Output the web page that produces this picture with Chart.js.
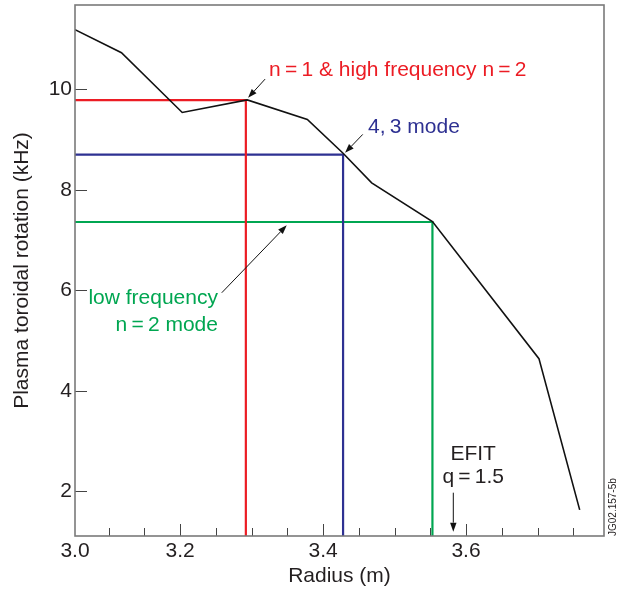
<!DOCTYPE html>
<html><head><meta charset="utf-8">
<script src="https://cdn.jsdelivr.net/npm/chart.js@4/dist/chart.umd.min.js"></script>
<style>html,body{margin:0;padding:0;background:#fff}canvas{display:block}</style>
</head><body>
<canvas id="c" width="626" height="593"></canvas>
<script>
// ---- data ----
const radius   = [3.053, 3.118, 3.203, 3.294, 3.378, 3.428, 3.468, 3.553, 3.702, 3.759];
const rotation = [11.19, 10.73, 9.54, 9.79, 9.40, 8.73, 8.14, 7.37, 4.64, 1.63];

const xMin = 3.053, xMax = 3.793, yMin = 1.11, yMax = 11.68;
const xTicks      = [3.053, 3.1, 3.15, 3.2, 3.25, 3.3, 3.35, 3.4, 3.45, 3.5, 3.55, 3.6, 3.65, 3.7, 3.75];
const xTickLabels = ['3.0', '', '', '3.2', '', '', '', '3.4', '', '', '', '3.6', '', '', ''];
const xMajor      = [3.2, 3.4, 3.6];
const yTicks      = [2, 4, 6, 8, 10];
const yTickLabels = ['2', '4', '6', '8', '10'];

const modeRadius   = [3.292, 3.428, 3.553];
const modeRotation = [9.787, 8.70, 7.36];
const modeColors   = ['#ec1c24', '#2e3192', '#00a651'];

// annotation texts (data coords)
const labelTexts = ['n\u2009=\u20091 & high frequency n\u2009=\u20092', '4,\u20093 mode', 'low frequency', 'n\u2009=\u20092 mode', 'EFIT', 'q\u2009=\u20091.5'];
const labelX     = [3.3245, 3.463, 3.253, 3.253, 3.610, 3.610];
const labelY     = [10.384, 9.25, 5.847, 5.310, 2.743, 2.285];
const labelAlign = ['left', 'left', 'right', 'right', 'center', 'center'];
const labelColor = ['#ec1c24', '#2e3192', '#00a651', '#00a651', '#231f20', '#231f20'];
// arrows (data coords): from -> to
const arrowX1 = [3.3189, 3.4555, 3.2583, 3.5822];
const arrowY1 = [10.205, 9.104, 5.952, 1.972];
const arrowX2 = [3.2951, 3.4308, 3.3492, 3.5822];
const arrowY2 = [9.833, 8.738, 7.294, 1.196];

const TXT = '#231f20';
Chart.defaults.font.family = "'Liberation Sans', Arial, Helvetica, sans-serif";

const datasets = [{
  data: radius.map((r, i) => ({x: r, y: rotation[i]})),
  borderColor: '#111', borderWidth: 1.6, pointRadius: 0, tension: 0, fill: false
}];
modeRadius.forEach((r, i) => {
  datasets.push({
    data: [{x: xMin, y: modeRotation[i]}, {x: r, y: modeRotation[i]}, {x: r, y: yMin}],
    borderColor: modeColors[i], borderWidth: 2.2, pointRadius: 0, tension: 0, fill: false,
    borderJoinStyle: 'miter'
  });
});

const framePlugin = {
  id: 'frame',
  afterDatasetsDraw(chart) {
    const {ctx, chartArea: a, scales: {x, y}} = chart;
    ctx.save();
    // inward tick marks
    ctx.strokeStyle = '#444'; ctx.lineWidth = 1;
    xTicks.forEach(v => {
      if (v <= xMin) return;
      const px = Math.round(x.getPixelForValue(v)) + 0.5;
      const len = xMajor.includes(v) ? 12 : 8;
      ctx.beginPath(); ctx.moveTo(px, a.bottom); ctx.lineTo(px, a.bottom - len); ctx.stroke();
    });
    yTicks.forEach(v => {
      const py = Math.round(y.getPixelForValue(v)) + 0.5;
      ctx.beginPath(); ctx.moveTo(a.left, py); ctx.lineTo(a.left + 12, py); ctx.stroke();
    });
    // frame
    ctx.strokeStyle = '#7a7a7a'; ctx.lineWidth = 1.6;
    ctx.strokeRect(a.left, a.top, a.right - a.left, a.bottom - a.top);
    // arrows
    ctx.strokeStyle = '#111'; ctx.fillStyle = '#111'; ctx.lineWidth = 1;
    arrowX1.forEach((_, i) => {
      const x1 = x.getPixelForValue(arrowX1[i]), y1 = y.getPixelForValue(arrowY1[i]);
      const x2 = x.getPixelForValue(arrowX2[i]), y2 = y.getPixelForValue(arrowY2[i]);
      const ang = Math.atan2(y2 - y1, x2 - x1), L = 9, W = 3.2;
      const bx = x2 - L * Math.cos(ang), by = y2 - L * Math.sin(ang);
      ctx.beginPath(); ctx.moveTo(x1, y1); ctx.lineTo(bx, by); ctx.stroke();
      ctx.beginPath(); ctx.moveTo(x2, y2);
      ctx.lineTo(bx + W * Math.sin(ang), by - W * Math.cos(ang));
      ctx.lineTo(bx - W * Math.sin(ang), by + W * Math.cos(ang));
      ctx.closePath(); ctx.fill();
    });
    // labels
    ctx.font = "21px 'Liberation Sans', Arial, sans-serif";
    ctx.textBaseline = 'middle';
    labelTexts.forEach((t, i) => {
      ctx.fillStyle = labelColor[i]; ctx.textAlign = labelAlign[i];
      ctx.fillText(t, x.getPixelForValue(labelX[i]), y.getPixelForValue(labelY[i]));
    });
    // figure id
    ctx.save();
    ctx.translate(a.right + 9, a.bottom);
    ctx.rotate(-Math.PI / 2);
    ctx.font = "10px 'Liberation Sans', Arial, sans-serif";
    ctx.fillStyle = TXT; ctx.textAlign = 'left'; ctx.textBaseline = 'middle';
    ctx.fillText('JG02.157-5b', 0, 0);
    ctx.restore();
    ctx.restore();
  }
};

new Chart(document.getElementById('c'), {
  type: 'line',
  data: {datasets},
  options: {
    responsive: false, animation: false, events: [],
    layout: {padding: {left: 0, top: 5, right: 22, bottom: 0}},
    plugins: {legend: {display: false}, tooltip: {enabled: false}},
    scales: {
      x: {
        type: 'linear', position: 'bottom', min: xMin, max: xMax,
        afterBuildTicks: s => { s.ticks = xTicks.map(v => ({value: v})); },
        afterFit: s => { s.height = 57; s.paddingLeft = 0; s.paddingRight = 0; },
        grid: {display: false, drawTicks: false}, border: {display: false},
        ticks: {autoSkip: false, maxRotation: 0, padding: 3, color: TXT, font: {size: 21},
          callback: (v, i) => xTickLabels[i]},
        title: {display: true, text: 'Radius (m)', color: TXT, font: {size: 21}, padding: {top: 0, bottom: 4}}
      },
      y: {
        type: 'linear', position: 'left', min: yMin, max: yMax,
        afterBuildTicks: s => { s.ticks = yTicks.map(v => ({value: v})); },
        afterFit: s => { s.width = 75; s.paddingTop = 0; s.paddingBottom = 0; },
        grid: {display: false, drawTicks: false}, border: {display: false},
        ticks: {padding: 3, color: TXT, font: {size: 21}, callback: (v, i) => yTickLabels[i]},
        title: {display: true, text: 'Plasma toroidal rotation (kHz)', color: TXT, font: {size: 21}, padding: {top: 10, bottom: 0}}
      }
    }
  },
  plugins: [framePlugin]
});
</script>
</body></html>
